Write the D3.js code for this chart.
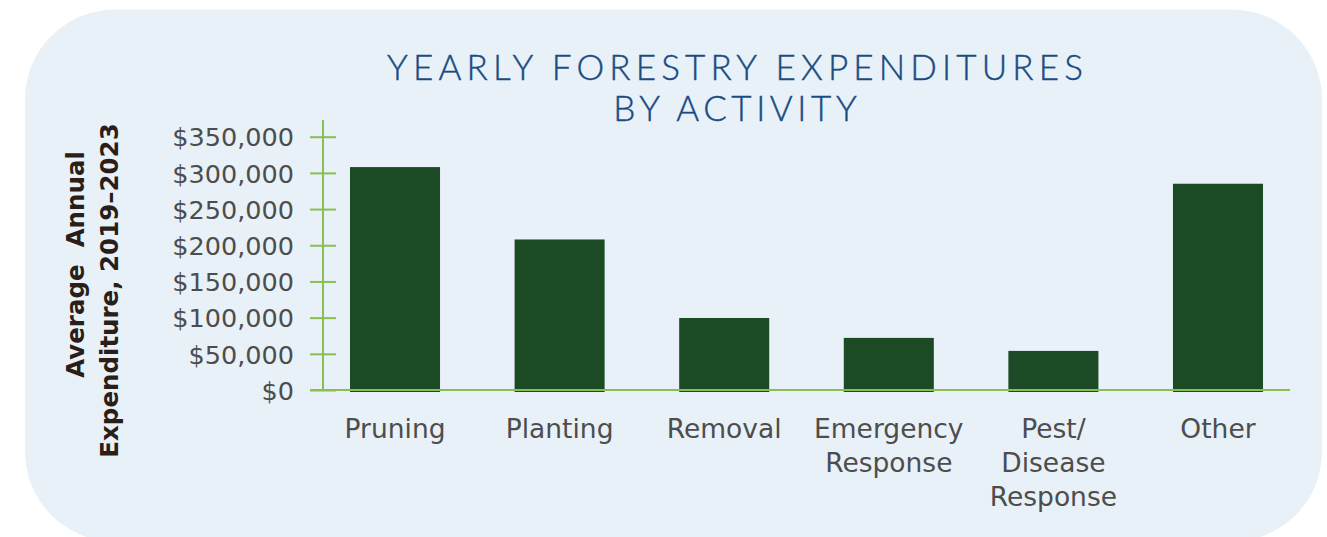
<!DOCTYPE html>
<html>
<head>
<meta charset="utf-8">
<script src="https://cdn.jsdelivr.net/npm/d3@7"></script>
<style>
  html, body { margin: 0; padding: 0; background: #ffffff; }
  svg { display: block; }
</style>
</head>
<body>
<svg id="chart" width="1327" height="537"></svg>
<script>
// Average annual forestry spending by activity, 2019–2023
const categories = ["Pruning", "Planting", "Removal", "Emergency Response", "Pest/Disease Response", "Other"];
const categoryLines = [["Pruning"], ["Planting"], ["Removal"], ["Emergency", "Response"], ["Pest/", "Disease", "Response"], ["Other"]];
const expenditures = [308000, 208000, 99500, 72000, 54000, 285000];
const tickValues = [0, 50000, 100000, 150000, 200000, 250000, 300000, 350000];
const tickLabels = ["$0", "$50,000", "$100,000", "$150,000", "$200,000", "$250,000", "$300,000", "$350,000"];
const titleLines = ["YEARLY FORESTRY EXPENDITURES", "BY ACTIVITY"];
const yTitleLines = ["Average  Annual", "Expenditure, 2019\u20132023"];

const svg = d3.select("#chart");
const green = "#88bf52";

// panel
svg.append("rect")
  .attr("x", 25).attr("y", 9.5)
  .attr("width", 1297).attr("height", 532)
  .attr("rx", 90).attr("ry", 90)
  .attr("fill", "#e8f1f8");

// title, each line spaced out to its set width
const titleWidths = [701, 248];
titleLines.forEach((t, i) => {
  const txt = svg.append("text")
    .attr("x", 735).attr("y", 80 + i * 41)
    .attr("text-anchor", "middle")
    .attr("font-family", "Lato, 'Open Sans', sans-serif")
    .attr("font-weight", 300)
    .attr("font-size", 35)
    .attr("fill", "#1b4b82")
    .attr("stroke", "#1b4b82")
    .attr("stroke-width", 0.4)
    .text(t);
  const w = txt.node().getComputedTextLength();
  const ls = (titleWidths[i] - w) / t.length;
  txt.attr("letter-spacing", ls.toFixed(2) + "px").attr("x", 735 + ls / 2);
});

// scales
const y = d3.scaleLinear().domain([0, 350000]).range([390, 136.7]);
const x = d3.scaleBand().domain(categories).range([323, 1290])
  .paddingInner(0.453).paddingOuter(0.164);

// bars
svg.append("g").selectAll("rect")
  .data(categories)
  .join("rect")
  .attr("x", d => x(d))
  .attr("width", x.bandwidth())
  .attr("y", (d, i) => y(expenditures[i]))
  .attr("height", (d, i) => y(0) + 2 - y(expenditures[i]))
  .attr("fill", "#1c4a24");

// y axis
const yAxis = d3.axisLeft(y)
  .tickValues(tickValues)
  .tickFormat(d => tickLabels[tickValues.indexOf(d)])
  .tickSizeInner(13).tickSizeOuter(0).tickPadding(16);
const gy = svg.append("g").attr("transform", "translate(323,0)").call(yAxis);
gy.select(".domain").remove();
gy.selectAll(".tick line").attr("x1", -13).attr("x2", 13)
  .attr("stroke", green).attr("stroke-width", 2);
gy.selectAll(".tick text")
  .attr("font-family", "'DejaVu Sans', sans-serif")
  .attr("font-size", 25.5)
  .attr("fill", "#4d4d4d")
  .attr("x", -29)
  .attr("dy", "0.36em");
svg.append("line")
  .attr("x1", 323).attr("x2", 323).attr("y1", 120).attr("y2", y(0))
  .attr("stroke", green).attr("stroke-width", 2);

// x axis baseline
svg.append("line")
  .attr("x1", 310).attr("x2", 1290).attr("y1", y(0)).attr("y2", y(0))
  .attr("stroke", green).attr("stroke-width", 2);

// category labels
const xl = svg.append("g").selectAll("text")
  .data(categories)
  .join("text")
  .attr("text-anchor", "middle")
  .attr("font-family", "'DejaVu Sans', sans-serif")
  .attr("font-size", 26.5)
  .attr("fill", "#4d4d4d")
  .attr("transform", d => `translate(${x(d) + x.bandwidth() / 2},438)`);
xl.each(function (d, i) {
  d3.select(this).selectAll("tspan")
    .data(categoryLines[i])
    .join("tspan")
    .attr("x", 0)
    .attr("y", (l, j) => j * 34)
    .text(l => l);
});

// y axis title
const yTitlePos = [[84, 264.5], [118, 290.5]];
yTitleLines.forEach((t, i) => {
  svg.append("text")
    .attr("transform", `translate(${yTitlePos[i][0]},${yTitlePos[i][1]}) rotate(-90)`)
    .attr("text-anchor", "middle")
    .attr("font-family", "'DejaVu Sans', sans-serif")
    .attr("font-weight", "bold")
    .attr("font-size", 24.5)
    .attr("fill", "#2b1d17")
    .attr("xml:space", "preserve")
    .style("white-space", "pre")
    .text(t);
});
</script>
</body>
</html>
